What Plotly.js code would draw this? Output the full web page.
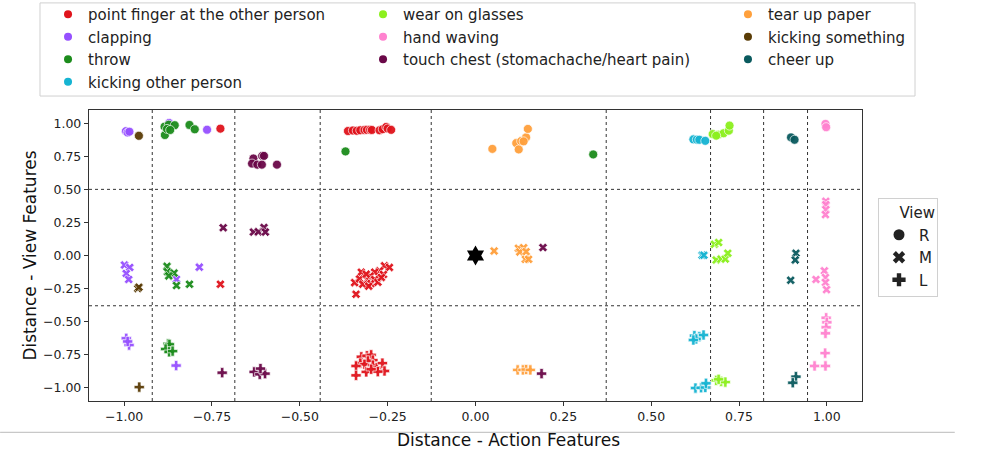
<!DOCTYPE html>
<html>
<head>
<meta charset="utf-8">
<script src="https://cdn.plot.ly/plotly-3.0.1.min.js"></script>
<style>html,body{margin:0;padding:0;background:#fff;}#chart{width:1007px;height:453px;}</style>
</head>
<body>
<div id="chart"></div>
<script>
// ---- data: action names, colours, and per-view (R/M/L) coordinates ----
const actions = ["point finger at the other person","clapping","throw","kicking other person",
  "wear on glasses","hand waving","touch chest (stomachache/heart pain)",
  "tear up paper","kicking something","cheer up"];
const colors = ["#e0141c","#9650ff","#1c8c1c","#16b4d2","#8cf01e","#ff82cf","#6a0848","#ffa03c","#5a3c06","#0a5a5e"];
const viewNames = ["R","M","L"];

const fingerRx = [-0.363,-0.349,-0.338,-0.328,-0.316,-0.309,-0.300,-0.295,-0.273,-0.264,-0.254,-0.250,-0.240,-0.726];
const fingerRy = [0.941,0.945,0.943,0.947,0.949,0.950,0.951,0.949,0.947,0.955,0.972,0.960,0.950,0.959];
const fingerMx = [-0.325,-0.259,-0.245,-0.273,-0.287,-0.262,-0.344,-0.330,-0.321,-0.306,-0.300,-0.297,-0.287,-0.278,-0.268,-0.340,-0.304,-0.311,-0.726];
const fingerMy = [-0.126,-0.078,-0.090,-0.116,-0.126,-0.143,-0.205,-0.177,-0.217,-0.187,-0.156,-0.212,-0.181,-0.202,-0.166,-0.293,-0.232,-0.141,-0.217];
const fingerLx = [-0.325,-0.309,-0.297,-0.292,-0.306,-0.328,-0.316,-0.340,-0.292,-0.281,-0.265,-0.259,-0.278,-0.311,-0.340,-0.297];
const fingerLy = [-0.766,-0.758,-0.751,-0.791,-0.797,-0.814,-0.822,-0.835,-0.829,-0.848,-0.814,-0.873,-0.878,-0.880,-0.906,-0.860];

const clapRx = [-0.995,-0.990,-0.985,-0.872,-0.764];
const clapRy = [0.940,0.930,0.936,1.002,0.951];
const clapMx = [-0.999,-0.984,-0.994,-0.987,-0.851,-0.786];
const clapMy = [-0.072,-0.090,-0.136,-0.181,-0.179,-0.088];
const clapLx = [-0.994,-0.986,-0.990,-0.852];
const clapLy = [-0.626,-0.677,-0.650,-0.832];

const throwRx = [-0.885,-0.873,-0.856,-0.884,-0.878,-0.869,-0.814,-0.799,-0.370,0.335];
const throwRy = [0.974,0.989,0.985,0.911,0.957,0.949,0.987,0.954,0.787,0.764];
const throwMx = [-0.878,-0.877,-0.858,-0.873,-0.851,-0.814];
const throwMy = [-0.082,-0.123,-0.133,-0.154,-0.227,-0.217];
const throwLx = [-0.875,-0.871,-0.882,-0.872,-0.862];
const throwLy = [-0.667,-0.672,-0.707,-0.728,-0.723];

const kickPersonRx = [0.620,0.630,0.637,0.654];
const kickPersonRy = [0.878,0.876,0.875,0.867];
const kickPersonMx = [0.645,0.650];
const kickPersonMy = [0.002,0.002];
const kickPersonLx = [0.623,0.637,0.649,0.628,0.620,0.626,0.642,0.654,0.656];
const kickPersonLy = [-0.606,-0.614,-0.601,-0.631,-0.639,-1.002,-1.000,-0.998,-0.966];

const glassesRx = [0.675,0.691,0.706,0.721,0.723,0.685];
const glassesRy = [0.918,0.913,0.924,0.944,0.982,0.906];
const glassesMx = [0.680,0.692,0.685,0.699,0.711,0.718];
const glassesMy = [0.085,0.098,-0.034,-0.027,-0.027,0.017];
const glassesLx = [0.685,0.699,0.711,0.692];
const glassesLy = [-0.944,-0.951,-0.957,-0.936];

const wavingRx = [0.996,0.998];
const wavingRy = [0.995,0.970];
const wavingMx = [0.997,0.997,0.997,0.996,0.993,0.996,0.996,0.999,0.969];
const wavingMy = [0.410,0.385,0.347,0.309,-0.116,-0.166,-0.204,-0.258,-0.181];
const wavingLx = [0.998,1.000,0.998,0.996,0.995,0.965,0.996];
const wavingLy = [-0.471,-0.505,-0.543,-0.588,-0.738,-0.835,-0.835];

const chestRx = [-0.632,-0.607,-0.602,-0.636,-0.621,-0.608,-0.565];
const chestRy = [0.733,0.753,0.753,0.695,0.687,0.687,0.687];
const chestMx = [-0.718,-0.632,-0.618,-0.602,-0.598,0.192];
const chestMy = [0.210,0.177,0.179,0.212,0.177,0.060];
const chestLx = [-0.721,-0.630,-0.614,-0.599,-0.612,0.188];
const chestLy = [-0.886,-0.880,-0.898,-0.893,-0.855,-0.893];

const paperRx = [0.048,0.116,0.130,0.144,0.149,0.123,0.137];
const paperRy = [0.806,0.850,0.865,0.893,0.957,0.802,0.863];
const paperMx = [0.053,0.122,0.137,0.126,0.144,0.142,0.151];
const paperMy = [0.034,0.055,0.059,0.027,0.029,-0.029,-0.029];
const paperLx = [0.120,0.135,0.144,0.156];
const paperLy = [-0.865,-0.865,-0.862,-0.865];

const kickThingRx = [-0.958];
const kickThingRy = [0.905];
const kickThingMx = [-0.961,-0.958];
const kickThingMy = [-0.250,-0.240];
const kickThingLx = [-0.957];
const kickThingLy = [-0.995];

const cheerRx = [0.898,0.908];
const cheerRy = [0.893,0.875];
const cheerMx = [0.912,0.910,0.897];
const cheerMy = [0.017,-0.034,-0.187];
const cheerLx = [0.912,0.903];
const cheerLy = [-0.916,-0.962];

const queryX = [0.0];
const queryY = [0.0];

const xTicks = [-1.0,-0.75,-0.5,-0.25,0.0,0.25,0.5,0.75,1.0];
const yTicks = [-1.0,-0.75,-0.5,-0.25,0.0,0.25,0.5,0.75,1.0];
const vLines = [-0.92,-0.685,-0.442,-0.126,0.372,0.669,0.82,0.945];
const hLines = [0.5,-0.38];

// ---- build traces ----
const perAction = [
  [[fingerRx,fingerRy],[fingerMx,fingerMy],[fingerLx,fingerLy]],
  [[clapRx,clapRy],[clapMx,clapMy],[clapLx,clapLy]],
  [[throwRx,throwRy],[throwMx,throwMy],[throwLx,throwLy]],
  [[kickPersonRx,kickPersonRy],[kickPersonMx,kickPersonMy],[kickPersonLx,kickPersonLy]],
  [[glassesRx,glassesRy],[glassesMx,glassesMy],[glassesLx,glassesLy]],
  [[wavingRx,wavingRy],[wavingMx,wavingMy],[wavingLx,wavingLy]],
  [[chestRx,chestRy],[chestMx,chestMy],[chestLx,chestLy]],
  [[paperRx,paperRy],[paperMx,paperMy],[paperLx,paperLy]],
  [[kickThingRx,kickThingRy],[kickThingMx,kickThingMy],[kickThingLx,kickThingLy]],
  [[cheerRx,cheerRy],[cheerMx,cheerMy],[cheerLx,cheerLy]]
];
const symbols = ["circle","x","cross"];
const symSizes = [9,8,8.5];

const traces = [];
perAction.forEach((views, ai) => {
  views.forEach((xy, vi) => {
    traces.push({
      type:"scatter", mode:"markers", x:xy[0], y:xy[1],
      name: actions[ai] + " (" + viewNames[vi] + ")", showlegend:false,
      marker:{symbol:symbols[vi], size:symSizes[vi], color:colors[ai], opacity:0.95,
              line:{color:"#ffffff", width:0.7}},
      hoverinfo:"skip"
    });
  });
});
traces.push({type:"scatter", mode:"markers", x:queryX, y:queryY, showlegend:false,
  marker:{symbol:"hexagram", size:15, color:"#000000", line:{width:0}}});

// colour legend entries, arranged in three columns
const legendCols = ["legend","legend","legend","legend","legend2","legend2","legend2","legend3","legend3","legend3"];
actions.forEach((a, ai) => {
  traces.push({type:"scatter", mode:"markers", x:[null], y:[null], name:a,
    legend:legendCols[ai], showlegend:true,
    marker:{symbol:"circle", size:8, color:colors[ai], line:{width:0}}});
});
// view legend entries
viewNames.forEach((v, vi) => {
  traces.push({type:"scatter", mode:"markers", x:[null], y:[null], name:v,
    legend:"legend4", showlegend:true,
    marker:{symbol:symbols[vi], size:11, color:"#222222", line:{width:0}}});
});

const shapes = [];
vLines.forEach(v => shapes.push({type:"line", xref:"x", yref:"paper", x0:v, x1:v, y0:0, y1:1,
  line:{color:"#333", width:1, dash:"dot"}, layer:"below"}));
hLines.forEach(h => shapes.push({type:"line", xref:"paper", yref:"y", x0:0, x1:1, y0:h, y1:h,
  line:{color:"#333", width:1, dash:"dot"}, layer:"below"}));
// frame around colour legend
shapes.push({type:"rect", xref:"paper", yref:"paper", x0:-0.0634, x1:1.0686, y0:1.048, y1:1.368,
  line:{color:"#d0d0d0", width:1}, fillcolor:"rgba(0,0,0,0)", layer:"above"});
// thin grey separator line under axis
shapes.push({type:"line", xref:"paper", yref:"paper", x0:-0.115, x1:1.12, y0:-0.108, y1:-0.108,
  line:{color:"#c8c8c8", width:1.2}});

const font = "DejaVu Sans, Verdana, sans-serif";
const legFont = {family:font, size:15, color:"#222"};
const layout = {
  width:1007, height:453,
  margin:{l:89, r:145, t:110, b:52, autoexpand:false},
  paper_bgcolor:"#fff", plot_bgcolor:"#fff",
  font:{family:font, color:"#222"},
  xaxis:{range:[-1.1,1.1], tickvals:xTicks, tickformat:".2f", showgrid:false, zeroline:false,
    showline:true, mirror:true, linecolor:"#333", linewidth:1.2, automargin:false,
    ticks:"outside", ticklen:4, tickcolor:"#333", tickfont:{family:font, size:12.5, color:"#222"}},
  yaxis:{range:[-1.1,1.1], tickvals:yTicks, tickformat:".2f", showgrid:false, zeroline:false,
    showline:true, mirror:true, linecolor:"#333", linewidth:1.2, automargin:false,
    ticks:"outside", ticklen:4, tickcolor:"#333", tickfont:{family:font, size:12.5, color:"#222"},
    title:{text:"Distance - View Features", font:{family:font, size:17, color:"#111"}, standoff:2}},
  annotations:[{text:"Distance - Action Features", xref:"paper", yref:"paper",
    x:0.543, y:-0.134, xanchor:"center", yanchor:"middle", showarrow:false,
    font:{family:font, size:17, color:"#111"}}],
  shapes:shapes,
  showlegend:true,
  legend:{x:-0.053, y:1.385, xanchor:"left", yanchor:"top", orientation:"v", font:legFont,
    bgcolor:"rgba(0,0,0,0)", borderwidth:0, tracegroupgap:0},
  legend2:{x:0.3545, y:1.385, xanchor:"left", yanchor:"top", orientation:"v", font:legFont,
    bgcolor:"rgba(0,0,0,0)", borderwidth:0, tracegroupgap:0},
  legend3:{x:0.8266, y:1.385, xanchor:"left", yanchor:"top", orientation:"v", font:legFont,
    bgcolor:"rgba(0,0,0,0)", borderwidth:0, tracegroupgap:0},
  legend4:{x:1.0207, y:0.6976, xanchor:"left", yanchor:"top", orientation:"v", font:legFont,
    bgcolor:"#fff", bordercolor:"#d0d0d0", borderwidth:1, tracegroupgap:0,
    title:{text:"View", side:"top right", font:legFont}}
};

Plotly.newPlot("chart", traces, layout, {displayModeBar:false, staticPlot:true});
</script>
</body>
</html>
